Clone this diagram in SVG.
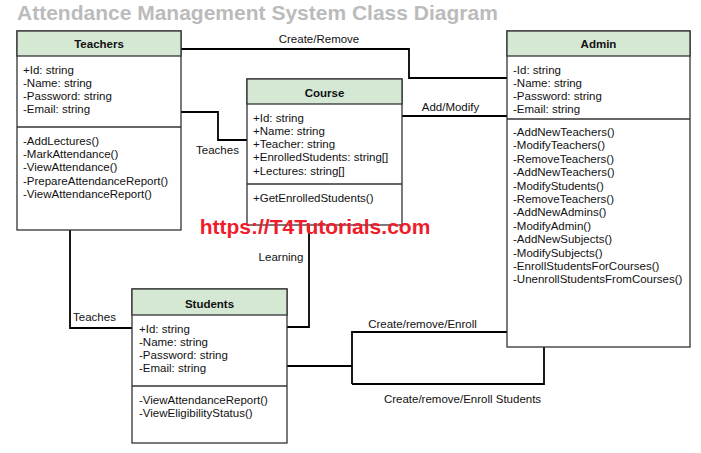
<svg xmlns="http://www.w3.org/2000/svg" width="701" height="453" viewBox="0 0 701 453">
<style>
text{font-family:"Liberation Sans",Arial,sans-serif;font-size:11.5px;fill:#111}
.h{font-weight:bold;text-anchor:middle}
.box{fill:#fff;stroke:#333;stroke-width:1.3}
.hd{fill:#d5e8d4;stroke:#333;stroke-width:1.3}
.ln{stroke:#333;stroke-width:1.3}
.c{fill:none;stroke:#000;stroke-width:1.8}
.lb{text-anchor:middle}
.title{font-size:21px;font-weight:bold;fill:#bbbbbb}
.wm{font-size:21px;font-weight:bold;fill:#f01c2c;text-anchor:middle}
</style>
<rect width="701" height="453" fill="#fff"/>
<text class="title" x="17" y="20">Attendance Management System Class Diagram</text>
<g id="connectors">
<polyline class="c" points="181,49 409,49 409,78 507,78"/>
<polyline class="c" points="181,112 218,112 218,140 247,140"/>
<line class="c" x1="402" y1="116" x2="507" y2="116"/>
<polyline class="c" points="70,230 70,328 132,328"/>
<polyline class="c" points="309,225 309,327 287,327"/>
<polyline class="c" points="287,366 352,366"/>
<polyline class="c" points="352,384 352,332 507,332"/>
<polyline class="c" points="352,384 544,384 544,347"/>
<text class="lb" x="319" y="43">Create/Remove</text>
<text class="lb" x="450.5" y="111">Add/Modify</text>
<text class="lb" x="217.5" y="154">Teaches</text>
<text class="lb" x="281" y="261">Learning</text>
<text class="lb" x="94.5" y="321">Teaches</text>
<text class="lb" x="422.5" y="328">Create/remove/Enroll</text>
<text class="lb" x="462.5" y="403">Create/remove/Enroll Students</text>
</g>
<g id="teachers">
<rect class="box" x="17" y="31" width="164" height="199"/>
<rect class="hd" x="17" y="31" width="164" height="25"/>
<line class="ln" x1="17" y1="127" x2="181" y2="127"/>
<text class="h" x="99" y="48">Teachers</text>
<text x="23" y="73.5">+Id: string</text>
<text x="23" y="86.8">-Name: string</text>
<text x="23" y="100">-Password: string</text>
<text x="23" y="113.3">-Email: string</text>
<text x="23" y="144.5">-AddLectures()</text>
<text x="23" y="157.8">-MarkAttendance()</text>
<text x="23" y="171">-ViewAttendance()</text>
<text x="23" y="184.5">-PrepareAttendanceReport()</text>
<text x="23" y="198">-ViewAttendanceReport()</text>
</g>
<g id="course">
<rect class="box" x="247" y="79" width="155" height="146"/>
<rect class="hd" x="247" y="79" width="155" height="25"/>
<line class="ln" x1="247" y1="184" x2="402" y2="184"/>
<text class="h" x="324.5" y="96.5">Course</text>
<text x="253" y="121.5">+Id: string</text>
<text x="253" y="134.8">+Name: string</text>
<text x="253" y="148">+Teacher: string</text>
<text x="253" y="161.3">+EnrolledStudents: string[]</text>
<text x="253" y="174.5">+Lectures: string[]</text>
<text x="253" y="202">+GetEnrolledStudents()</text>
</g>
<g id="admin">
<rect class="box" x="507" y="31" width="183" height="316"/>
<rect class="hd" x="507" y="31" width="183" height="25"/>
<line class="ln" x1="507" y1="119" x2="690" y2="119"/>
<text class="h" x="598.5" y="48">Admin</text>
<text x="513" y="73.5">-Id: string</text>
<text x="513" y="86.8">-Name: string</text>
<text x="513" y="100">-Password: string</text>
<text x="513" y="113.3">-Email: string</text>
<text x="513" y="136">-AddNewTeachers()</text>
<text x="513" y="149.4">-ModifyTeachers()</text>
<text x="513" y="162.8">-RemoveTeachers()</text>
<text x="513" y="176.2">-AddNewTeachers()</text>
<text x="513" y="189.6">-ModifyStudents()</text>
<text x="513" y="203">-RemoveTeachers()</text>
<text x="513" y="216.4">-AddNewAdmins()</text>
<text x="513" y="229.8">-ModifyAdmin()</text>
<text x="513" y="243.2">-AddNewSubjects()</text>
<text x="513" y="256.6">-ModifySubjects()</text>
<text x="513" y="270">-EnrollStudentsForCourses()</text>
<text x="513" y="283.4">-UnenrollStudentsFromCourses()</text>
</g>
<g id="students">
<rect class="box" x="132" y="289" width="155" height="154"/>
<rect class="hd" x="132" y="289" width="155" height="26"/>
<line class="ln" x1="132" y1="386" x2="287" y2="386"/>
<text class="h" x="209.5" y="307.5">Students</text>
<text x="139" y="332.5">+Id: string</text>
<text x="139" y="345.5">-Name: string</text>
<text x="139" y="359">-Password: string</text>
<text x="139" y="372">-Email: string</text>
<text x="139" y="404">-ViewAttendanceReport()</text>
<text x="139" y="417">-ViewEligibilityStatus()</text>
</g>
<text class="wm" x="315" y="233.5">https://T4Tutorials.com</text>
</svg>
